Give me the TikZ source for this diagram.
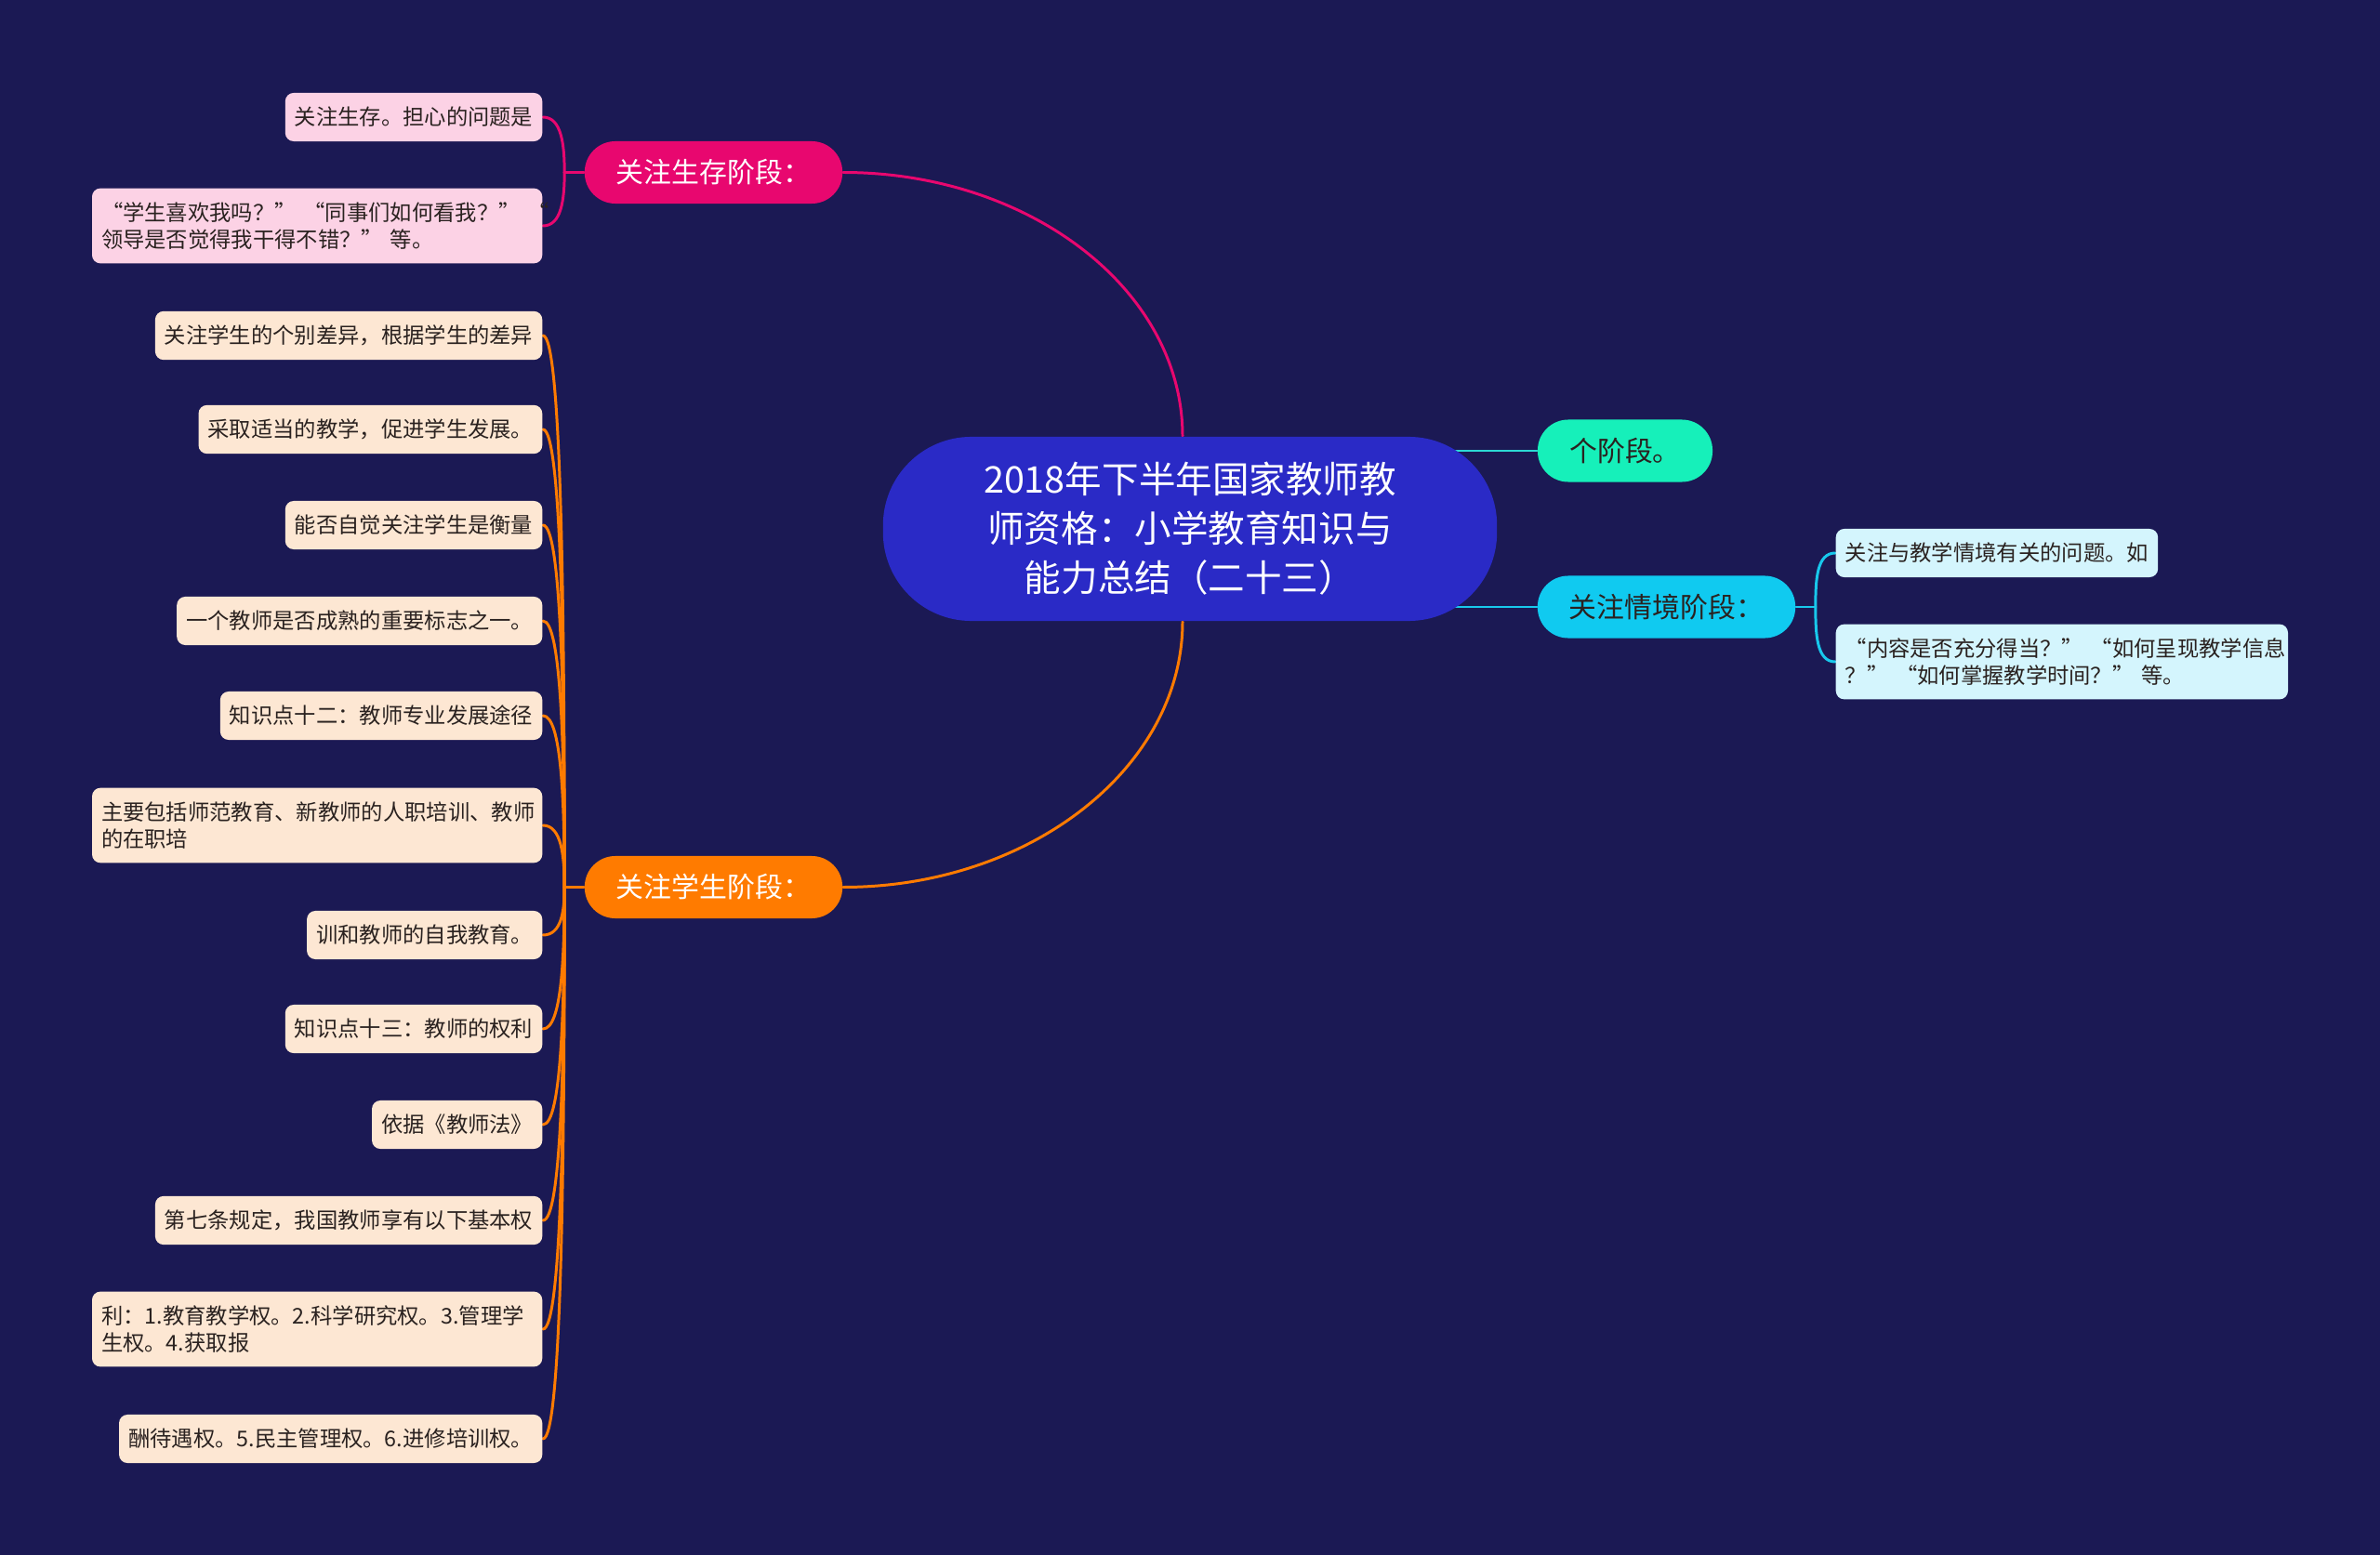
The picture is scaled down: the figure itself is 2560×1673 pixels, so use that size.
\documentclass[tikz,border=0pt]{standalone}
\usepackage{fontspec}
\setmainfont{Noto Sans CJK SC}
\usetikzlibrary{calc}
\definecolor{bgc}{HTML}{1B1954}
\definecolor{rootc}{HTML}{2A2AC6}
\definecolor{pinkc}{HTML}{E8076F}
\definecolor{orangec}{HTML}{FF7B00}
\definecolor{greenc}{HTML}{16F0BA}
\definecolor{cyanc}{HTML}{10CAF0}
\definecolor{pinkleaf}{HTML}{FCD2E5}
\definecolor{orangeleaf}{HTML}{FDE7D3}
\definecolor{cyanleaf}{HTML}{D4F5FD}
\definecolor{greenline}{HTML}{2CD8D4}
\definecolor{cyanline}{HTML}{18C8EC}
\definecolor{darktext}{HTML}{2A2220}
\pgfdeclarelayer{bglayer}
\pgfdeclarelayer{edgelayer}
\pgfsetlayers{bglayer,edgelayer,main}
\begin{document}
\begin{tikzpicture}[x=0.01cm,y=-0.01cm,
  rootbox/.style={fill=rootc, text=white, rounded corners=0.95cm, minimum width=6.6cm, minimum height=1.98cm, align=center, inner sep=0pt, font=\fontsize{11.25}{15.1}\selectfont},
  branchbox/.style={rounded corners=0.33cm, minimum height=0.67cm, inner xsep=0.34cm, inner ysep=0pt, font=\fontsize{8.5}{10}\selectfont},
  leafbox/.style={rounded corners=0.09cm, minimum height=0.52cm, inner xsep=0.1cm, inner ysep=0.15cm, text=darktext, font=\fontsize{6.63}{8.25}\selectfont},
  wideleaf/.style={leafbox, text width=4.64cm, align=left},
  conn/.style={line width=0.85pt, line cap=round},
]
\useasboundingbox (0,0) rectangle (2560,1673);
\begin{pgfonlayer}{bglayer}
\fill[bgc] (0,0) rectangle (2560,1673);
\end{pgfonlayer}

% root
\node[rootbox] (root) at (1280,569) {2018年下半年国家教师教\\师资格：小学教育知识与\\能力总结（二十三）};

% branches
\node[branchbox, fill=pinkc, text=white, minimum width=2.77cm] (pk) at (767.5,185.5) {关注生存阶段：};
\node[branchbox, fill=orangec, text=white, minimum width=2.77cm] (og) at (767.5,954.5) {关注学生阶段：};
\node[branchbox, fill=greenc, text=darktext, minimum width=1.88cm] (gr) at (1748,485) {个阶段。};
\node[branchbox, fill=cyanc, text=darktext, minimum width=2.77cm] (cy) at (1792.5,653) {关注情境阶段：};

% pink leaves
\node[leafbox, fill=pinkleaf, anchor=east] (p1) at (584,126) {关注生存。担心的问题是};
\node[wideleaf, fill=pinkleaf, anchor=east] (p2) at (584,243) {\mbox{“学生喜欢我吗？” “同事们如何看我？” “}\\\mbox{领导是否觉得我干得不错？” 等。}};

% orange leaves
\node[leafbox, fill=orangeleaf, anchor=east] (o1) at (584,361) {关注学生的个别差异，根据学生的差异};
\node[leafbox, fill=orangeleaf, anchor=east] (o2) at (584,462) {采取适当的教学，促进学生发展。};
\node[leafbox, fill=orangeleaf, anchor=east] (o3) at (584,565) {能否自觉关注学生是衡量};
\node[leafbox, fill=orangeleaf, anchor=east] (o4) at (584,668) {一个教师是否成熟的重要标志之一。};
\node[leafbox, fill=orangeleaf, anchor=east] (o5) at (584,770) {知识点十二：教师专业发展途径};
\node[wideleaf, fill=orangeleaf, anchor=east] (o6) at (584,888) {\mbox{主要包括师范教育、新教师的人职培训、教师}\\\mbox{的在职培}};
\node[leafbox, fill=orangeleaf, anchor=east] (o7) at (584,1006) {训和教师的自我教育。};
\node[leafbox, fill=orangeleaf, anchor=east] (o8) at (584,1107) {知识点十三：教师的权利};
\node[leafbox, fill=orangeleaf, anchor=east] (o9) at (584,1210) {依据《教师法》};
\node[leafbox, fill=orangeleaf, anchor=east] (o10) at (584,1313) {第七条规定，我国教师享有以下基本权};
\node[wideleaf, fill=orangeleaf, anchor=east] (o11) at (584,1430) {\mbox{利：1.教育教学权。2.科学研究权。3.管理学}\\\mbox{生权。4.获取报}};
\node[leafbox, fill=orangeleaf, anchor=east] (o12) at (584,1548) {酬待遇权。5.民主管理权。6.进修培训权。};

% cyan leaves
\node[leafbox, fill=cyanleaf, anchor=west] (c1) at (1974,595) {关注与教学情境有关的问题。如};
\node[wideleaf, fill=cyanleaf, anchor=west, text width=4.66cm] (c2) at (1974,712) {\mbox{“内容是否充分得当？” “如何呈现教学信息}\\\mbox{？” “如何掌握教学时间？” 等。}};

% connectors
\begin{pgfonlayer}{edgelayer}
\draw[conn, pinkc] ($(root.north)+(-8,0)$) .. controls +(0,-157) and +(201,0) .. (pk.east);
\draw[conn, orangec] ($(root.south)+(-8,0)$) .. controls +(0,157) and +(201,0) .. (og.east);
\draw[conn, greenline] (root.center |- gr.west) -- (gr.west);
\draw[conn, cyanline] (root.center |- cy.west) -- (cy.west);

\draw[conn, pinkc] (pk.west) -- ++(-21,0) coordinate (pkS);
\foreach \n in {p1,p2}{
  \draw[conn, pinkc] (pkS) .. controls ($(pkS)!0.5!(pkS |- \n.east)$) and +(20,0) .. (\n.east);
}
\draw[conn, orangec] (og.west) -- ++(-21,0) coordinate (ogS);
\foreach \n in {o1,o2,o3,o4,o5,o6,o7,o8,o9,o10,o11,o12}{
  \draw[conn, orangec] (ogS) .. controls ($(ogS)!0.5!(ogS |- \n.east)$) and +(20,0) .. (\n.east);
}
\draw[conn, cyanline] (cy.east) -- ++(21,0) coordinate (cyS);
\foreach \n in {c1,c2}{
  \draw[conn, cyanline] (cyS) .. controls ($(cyS)!0.5!(cyS |- \n.west)$) and +(-20,0) .. (\n.west);
}
\end{pgfonlayer}
\end{tikzpicture}
\end{document}
